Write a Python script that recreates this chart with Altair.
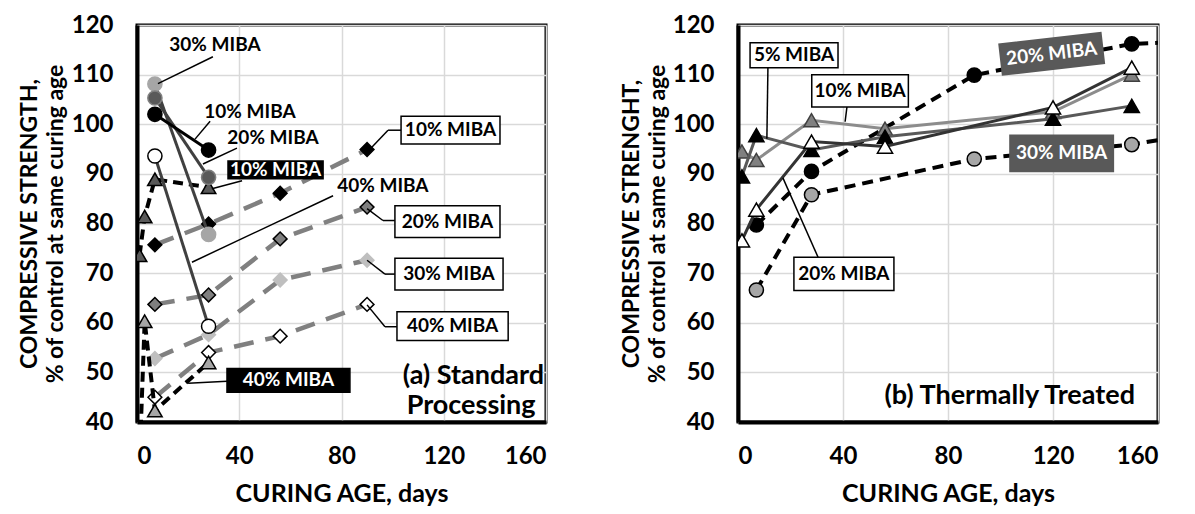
import altair as alt
import pandas as pd

FONT = "Lato"

# ---------------- (a) Standard Processing ----------------
A_CIRC_DAYS = [7, 28]
A_CIRC_10 = [102.0, 94.8]
A_CIRC_20 = [105.3, 89.3]
A_CIRC_30 = [108.1, 77.8]
A_CIRC_40 = [93.6, 59.3]

A_DIAM_DAYS = [7, 28, 56, 90]
A_DIAM_10 = [75.7, 79.9, 86.1, 94.9]
A_DIAM_20 = [63.7, 65.6, 76.9, 83.3]
A_DIAM_30 = [52.8, 57.6, 68.6, 72.6]
A_DIAM_40 = [45.0, 54.0, 57.3, 63.7]

A_TRI_DAYS = [1, 3, 7, 28]
A_TRI_10 = [73.6, 81.4, 88.9, 87.3]
A_TRI_40 = [32.0, 60.3, 42.3, 52.0]

# ---------------- (b) Thermally Treated ----------------
B_TRI_DAYS = [1.5, 7, 28, 56, 120, 150]
B_TRI_5 = [89.5, 97.8, 94.8, 97.5, 101.1, 103.7]
B_TRI_10 = [94.5, 92.8, 100.8, 99.1, 102.5, 110.0]
B_TRI_20 = [76.6, 82.8, 96.5, 95.5, 103.4, 111.4]

B_CIRC_DAYS = [7, 28, 90, 150, 180]
B_CIRC_20 = [79.7, 90.5, 109.9, 116.2, 116.8]
B_CIRC_30 = [66.6, 85.8, 93.0, 95.9, 98.6]

X_TICKS = [0, 40, 80, 120, 160]
Y_TICKS = [40, 50, 60, 70, 80, 90, 100, 110, 120]

# ---------------- annotations (data coordinates) ----------------
A_TXT_LABELS = ["30% MIBA", "10% MIBA", "20% MIBA", "40% MIBA"]
A_TXT_X = [30.5, 44.2, 53.2, 96.2]
A_TXT_Y = [116.0, 102.4, 97.2, 87.6]

A_BOX_LABELS = ["10% MIBA", "20% MIBA", "30% MIBA", "40% MIBA"]
A_BOX_X1 = [103.3, 100.9, 100.9, 101.7]
A_BOX_X2 = [142.0, 142.0, 143.2, 145.2]
A_BOX_Y1 = [96.0, 77.2, 66.6, 56.4]
A_BOX_Y2 = [101.6, 83.6, 73.0, 62.2]

A_DARK_LABELS = ["10% MIBA", "40% MIBA"]
A_DARK_X1 = [35.6, 35.2]
A_DARK_X2 = [72.8, 83.3]
A_DARK_Y1 = [89.0, 46.0]
A_DARK_Y2 = [92.6, 50.8]

A_LEAD_X1 = [29.7, 28.6, 39.1, 41.1, 76.7, 103.3, 98.2, 100.9, 96.2, 100.9, 97.0, 101.7, 97.0, 35.2]
A_LEAD_Y1 = [113.6, 100.6, 95.2, 88.6, 85.6, 98.8, 98.8, 80.6, 80.6, 69.8, 69.8, 59.2, 59.2, 48.2]
A_LEAD_X2 = [8.2, 22.7, 25.8, 29.3, 21.5, 98.2, 91.2, 96.2, 90.0, 97.0, 90.0, 97.0, 90.0, 20.0]
A_LEAD_Y2 = [108.2, 97.0, 92.0, 87.0, 72.2, 98.8, 95.0, 80.6, 83.0, 69.8, 72.6, 59.2, 63.6, 47.8]

A_PANEL_TEXT = ["(a) Standard", "Processing"]
A_PANEL_X = [131.6, 130.7]
A_PANEL_Y = [49.2, 43.2]

B_BOX_LABELS = ["5% MIBA", "10% MIBA", "20% MIBA"]
B_BOX_X1 = [4.6, 28.1, 21.3]
B_BOX_X2 = [38.1, 64.9, 59.4]
B_BOX_Y1 = [111.4, 103.5, 66.5]
B_BOX_Y2 = [116.4, 110.0, 73.2]

B_LEAD_X1 = [11.4, 41.5, 30.5]
B_LEAD_Y1 = [111.4, 103.5, 73.2]
B_LEAD_X2 = [11.0, 40.8, 17.1]
B_LEAD_Y2 = [97.1, 100.5, 89.2]

B_DARK_LABELS = ["30% MIBA"]
B_DARK_X1 = [103.6]
B_DARK_X2 = [143.0]
B_DARK_Y1 = [90.5]
B_DARK_Y2 = [97.8]

B_ROT_LABELS = ["20% MIBA"]
B_ROT_X = [119.5]
B_ROT_Y = [114.2]

B_PANEL_TEXT = ["(b) Thermally  Treated"]
B_PANEL_X = [103.5]
B_PANEL_Y = [45.3]

# ---------------- helpers ----------------
XS = alt.Scale(domain=[0, 160], nice=False, zero=False)
YS = alt.Scale(domain=[40, 120], nice=False, zero=False)

Y_TITLE_A = ["COMPRESSIVE STRENGTH,", "% of control at same curing age"]
Y_TITLE_B = ["COMPRESSIVE STRENGHT,", "% of control at same curing age"]
X_TITLE = "CURING AGE, days"


def axes(ytitle, ytx):
    xa = alt.Axis(values=X_TICKS, title=X_TITLE, titleY=71, titleBaseline="middle",
                  titleFontSize=25, labelPadding=22, tickSize=0, ticks=False)
    ya = alt.Axis(values=Y_TICKS, title=ytitle, titleX=ytx, titleBaseline="middle",
                  titleFontSize=23, titleLineHeight=26, labelPadding=24, tickSize=0,
                  ticks=False)
    return xa, ya


def series(days, vals, ax, shape, fill, stroke, line_color, lw, size, dash=None, sw=1.5):
    xa, ya = ax
    df = pd.DataFrame({"day": days, "val": vals})
    lk = dict(color=line_color, strokeWidth=lw, clip=True)
    if dash is not None:
        lk["strokeDash"] = dash
    enc = dict(x=alt.X("day:Q", scale=XS, axis=xa), y=alt.Y("val:Q", scale=YS, axis=ya))
    line = alt.Chart(df).mark_line(**lk).encode(**enc)
    pts = alt.Chart(df).mark_point(shape=shape, filled=True, fill=fill, stroke=stroke,
                                   strokeWidth=sw, size=size, opacity=1, clip=True).encode(**enc)
    return [line, pts]


def leaders(x1, y1, x2, y2, ax, width=1.5):
    xa, ya = ax
    df = pd.DataFrame({"x1": x1, "y1": y1, "x2": x2, "y2": y2})
    return alt.Chart(df).mark_rule(color="black", strokeWidth=width).encode(
        x=alt.X("x1:Q", scale=XS, axis=xa), y=alt.Y("y1:Q", scale=YS, axis=ya),
        x2="x2:Q", y2="y2:Q")


def boxes(labels, x1, x2, y1, y2, ax, fill, stroke, tcolor, size=19):
    xa, ya = ax
    df = pd.DataFrame({"label": labels, "x1": x1, "x2": x2, "y1": y1, "y2": y2})
    df["xc"] = (df["x1"] + df["x2"]) / 2
    df["yc"] = (df["y1"] + df["y2"]) / 2
    rect = alt.Chart(df).mark_rect(fill=fill, stroke=stroke, strokeWidth=1.5).encode(
        x=alt.X("x1:Q", scale=XS, axis=xa), y=alt.Y("y1:Q", scale=YS, axis=ya),
        x2="x2:Q", y2="y2:Q")
    txt = alt.Chart(df).mark_text(font=FONT, fontWeight="bold", fontSize=size, color=tcolor,
                                  baseline="middle", align="center").encode(
        x=alt.X("xc:Q", scale=XS, axis=xa), y=alt.Y("yc:Q", scale=YS, axis=ya), text="label:N")
    return [rect, txt]


def texts(labels, xs, ys, ax, size=19, color="black", angle=None):
    xa, ya = ax
    df = pd.DataFrame({"label": labels, "x": xs, "y": ys})
    kw = dict(font=FONT, fontWeight="bold", fontSize=size, color=color,
              baseline="middle", align="center")
    if angle is not None:
        kw["angle"] = angle
    return alt.Chart(df).mark_text(**kw).encode(
        x=alt.X("x:Q", scale=XS, axis=xa), y=alt.Y("y:Q", scale=YS, axis=ya), text="label:N")


# ---------------- panel (a) ----------------
AXA = axes(Y_TITLE_A, -107.5)
la = []
DD = [20, 12]
la += series(A_DIAM_DAYS, A_DIAM_10, AXA, "diamond", "black", "black", "#808080", 4.5, 190, DD)
la += series(A_DIAM_DAYS, A_DIAM_20, AXA, "diamond", "#7f7f7f", "black", "#808080", 4.5, 190, DD)
la += series(A_DIAM_DAYS, A_DIAM_30, AXA, "diamond", "#bfbfbf", "#bfbfbf", "#808080", 4.5, 190, DD)
la += series(A_DIAM_DAYS, A_DIAM_40, AXA, "diamond", "white", "black", "#808080", 4.5, 190, DD)
TD = [10, 6]
la += series(A_TRI_DAYS, A_TRI_40, AXA, "triangle-up", "#a6a6a6", "black", "black", 4, 210, TD)
la += series(A_TRI_DAYS, A_TRI_10, AXA, "triangle-up", "#595959", "black", "black", 4, 210, TD)
la += series(A_CIRC_DAYS, A_CIRC_40, AXA, "circle", "white", "black", "#404040", 3, 200)
la += series(A_CIRC_DAYS, A_CIRC_30, AXA, "circle", "#a6a6a6", "#a6a6a6", "#404040", 3, 200)
la += series(A_CIRC_DAYS, A_CIRC_20, AXA, "circle", "#595959", "#7f7f7f", "#404040", 3, 200)
la += series(A_CIRC_DAYS, A_CIRC_10, AXA, "circle", "black", "black", "black", 3, 200)
la.append(leaders(A_LEAD_X1, A_LEAD_Y1, A_LEAD_X2, A_LEAD_Y2, AXA))
la += boxes(A_BOX_LABELS, A_BOX_X1, A_BOX_X2, A_BOX_Y1, A_BOX_Y2, AXA, "white", "black", "black")
la += boxes(A_DARK_LABELS, A_DARK_X1, A_DARK_X2, A_DARK_Y1, A_DARK_Y2, AXA, "black", "black", "white")
la.append(texts(A_TXT_LABELS, A_TXT_X, A_TXT_Y, AXA))
la.append(texts(A_PANEL_TEXT, A_PANEL_X, A_PANEL_Y, AXA, size=27))

left = alt.layer(*la).properties(width=409, height=397)

# ---------------- panel (b) ----------------
AXB = axes(Y_TITLE_B, -106.5)
lb = []
CD = [11, 7]
lb += series(B_CIRC_DAYS, B_CIRC_30, AXB, "circle", "#a6a6a6", "black", "black", 4, 200, CD)
lb += series(B_CIRC_DAYS, B_CIRC_20, AXB, "circle", "black", "black", "black", 4, 200, CD)
lb += series(B_TRI_DAYS, B_TRI_10, AXB, "triangle-up", "#808080", "#404040", "#8c8c8c", 3, 230)
lb += series(B_TRI_DAYS, B_TRI_5, AXB, "triangle-up", "black", "black", "#595959", 3, 230)
lb += series(B_TRI_DAYS, B_TRI_20, AXB, "triangle-up", "white", "black", "#333333", 3, 230)
lb.append(leaders(B_LEAD_X1, B_LEAD_Y1, B_LEAD_X2, B_LEAD_Y2, AXB))
lb += boxes(B_BOX_LABELS, B_BOX_X1, B_BOX_X2, B_BOX_Y1, B_BOX_Y2, AXB, "white", "black", "black")
lb += boxes(B_DARK_LABELS, B_DARK_X1, B_DARK_X2, B_DARK_Y1, B_DARK_Y2, AXB, "#595959", "#595959", "white")
rot_df = pd.DataFrame({"label": B_ROT_LABELS, "x": B_ROT_X, "y": B_ROT_Y})
lb.append(alt.Chart(rot_df).mark_point(shape="M-1,-0.3H1V0.3H-1Z", size=10400, angle=353.5,
                                        filled=True, fill="#595959", stroke="#595959",
                                        opacity=1).encode(
    x=alt.X("x:Q", scale=XS, axis=AXB[0]), y=alt.Y("y:Q", scale=YS, axis=AXB[1])))
lb.append(texts(B_ROT_LABELS, B_ROT_X, B_ROT_Y, AXB, color="white", angle=353.5))
lb.append(texts(B_PANEL_TEXT, B_PANEL_X, B_PANEL_Y, AXB, size=27))

right = alt.layer(*lb).properties(width=420, height=397)

chart = alt.hconcat(left, right, spacing=192, bounds="flush").properties(
    padding={"left": 8, "top": 3, "right": 5, "bottom": 5}
).configure_view(
    stroke="black", strokeWidth=3
).configure_axis(
    labelFont=FONT, labelFontWeight="bold", labelFontSize=24, labelColor="black",
    titleFont=FONT, titleFontWeight="bold", titleColor="black",
    gridColor="#d9d9d9", gridWidth=1.5, domainColor="black", domainWidth=4
)

chart.save("out.html", embed_options={"renderer": "svg", "actions": False})
